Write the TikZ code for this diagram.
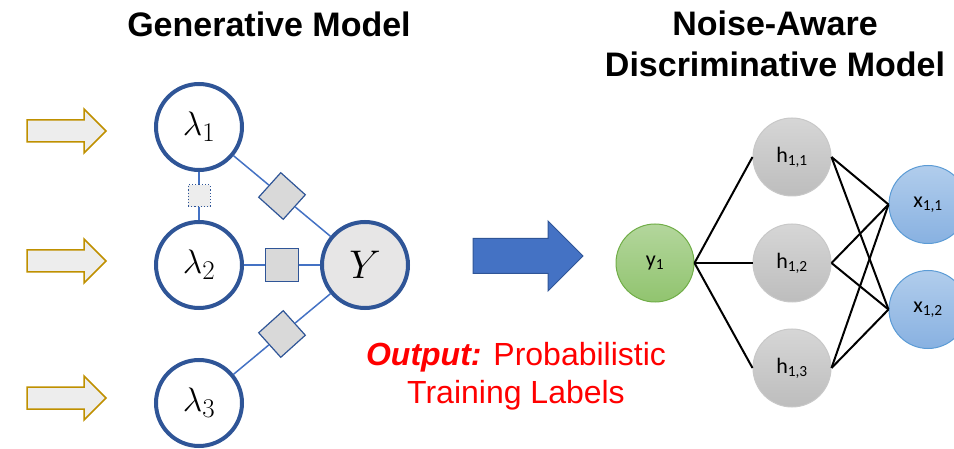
\documentclass[tikz,border=0pt]{standalone}
\usepackage{fix-cm}
\usepackage{fontspec}
\setmainfont{Liberation Sans}
\newfontfamily\calibri{Carlito}
\usepackage{amsmath}
\DeclareMathSizes{34}{34}{27}{20}

\definecolor{ringblue}{HTML}{2F5597}
\definecolor{linkblue}{HTML}{4472C4}
\definecolor{boxgray}{HTML}{D9D9D9}
\definecolor{ygray}{HTML}{E7E6E6}
\definecolor{gold}{HTML}{BF9000}
\definecolor{arrowgray}{HTML}{EDEDED}
\definecolor{ytop}{HTML}{B3D69C}
\definecolor{ybot}{HTML}{91C46F}
\definecolor{yline}{HTML}{70AD47}
\definecolor{htop}{HTML}{D6D6D6}
\definecolor{hbot}{HTML}{BDBDBD}
\definecolor{hline}{HTML}{C8C8C8}
\definecolor{xtop}{HTML}{B1CDEC}
\definecolor{xbot}{HTML}{88B1E1}
\definecolor{xline}{HTML}{5B9BD5}

\begin{document}
\begin{tikzpicture}[x=1pt,y=-1pt,
        lf/.style={circle, draw=ringblue, line width=4pt, fill=white,
            minimum size=86pt, inner sep=0pt, font=\fontsize{34}{40}\selectfont},
        factor/.style={rectangle, draw=ringblue, line width=1.2pt, fill=boxgray,
            minimum size=33pt, inner sep=0pt},
        link/.style={linkblue, line width=1.5pt},
        unit/.style={circle, minimum size=78pt, inner sep=0pt, line width=1pt,
            font=\calibri\fontsize{22}{26}\selectfont},
        wire/.style={black, line width=2pt},
        heading/.style={font=\bfseries\fontsize{34}{41}\selectfont, anchor=base, inner sep=0pt}
    ]
    \useasboundingbox (0,0) rectangle (954,449);

    % Titles
    \node[heading] (gen) at (269,37) {Generative Model};
    \node[heading, align=center] (disc) at (775,77) {Noise-Aware\\Discriminative Model};

    % Input arrows
    \foreach \y in {131,261,398}
    \draw[
        fill=arrowgray,
        draw=gold,
        line width=1.5pt
        ]
        (27,{\y-11}) -- (84,{\y-11}) -- (84,{\y-22}) -- (106,\y)
        -- (84,{\y+22}) -- (84,{\y+11}) -- (27,{\y+11}) -- cycle;

    % Generative model
    \node[lf] (l1) at (199,127) {\raisebox{-6pt}{$\lambda_1$}};
    \node[lf] (l2) at (199,265) {\raisebox{-6pt}{$\lambda_2$}};
    \node[lf] (l3) at (199,403) {\raisebox{-6pt}{$\lambda_3$}};
    \node[lf, fill=ygray, font=\fontsize{40}{48}\selectfont] (Y) at (365,265) {$Y$};

    \node[factor, rotate=-42] (d1) at (282,196) {};
    \node[factor] (s2) at (282,265) {};
    \node[factor, rotate=42] (d3) at (282,334) {};
    \node[factor, minimum size=22pt, fill=arrowgray, dotted, line width=1pt] (s12) at (199,196) {};

    \draw[link] (l1) -- (s12) -- (l2);
    \draw[link] (l1) -- (d1) -- (Y);
    \draw[link] (l2) -- (s2) -- (Y);
    \draw[link] (l3) -- (d3) -- (Y);

    % Big arrow
    \draw[fill=linkblue, draw=ringblue, line width=1pt]
        (473,238.5) -- (548,238.5) -- (548,221) -- (583,256)
        -- (548,291) -- (548,273.5) -- (473,273.5) -- cycle;

    \node[text=red, align=center, anchor=base, inner sep=0pt,
        font=\fontsize{32}{38}\selectfont] (out) at (516,403)
        {\textbf{\textit{Output:}} Probabilistic\\Training Labels};

    % Discriminative model
    \node[unit, draw=yline, top color=ytop, bottom color=ybot] (y1) at (655,263) {y\textsubscript{1}};
    \foreach \n/\y in {1/157, 2/263, 3/368}
    \node[unit, draw=hline, top color=htop, bottom color=hbot] (h\n) at (792,\y) {h\textsubscript{1,\n}};
    \foreach \n/\y in {1/204.5, 2/309.5}
    \node[unit, draw=xline, top color=xtop, bottom color=xbot] (x\n) at (928,\y) {x\textsubscript{1,\n}};

    \foreach \n in {1,2,3}
    \draw[wire] (y1.east) -- (h\n.west);
    \foreach \n in {1,2,3}
    \foreach \m in {1,2}
    \draw[wire] (h\n.east) -- (x\m.west);
\end{tikzpicture}
\end{document}
